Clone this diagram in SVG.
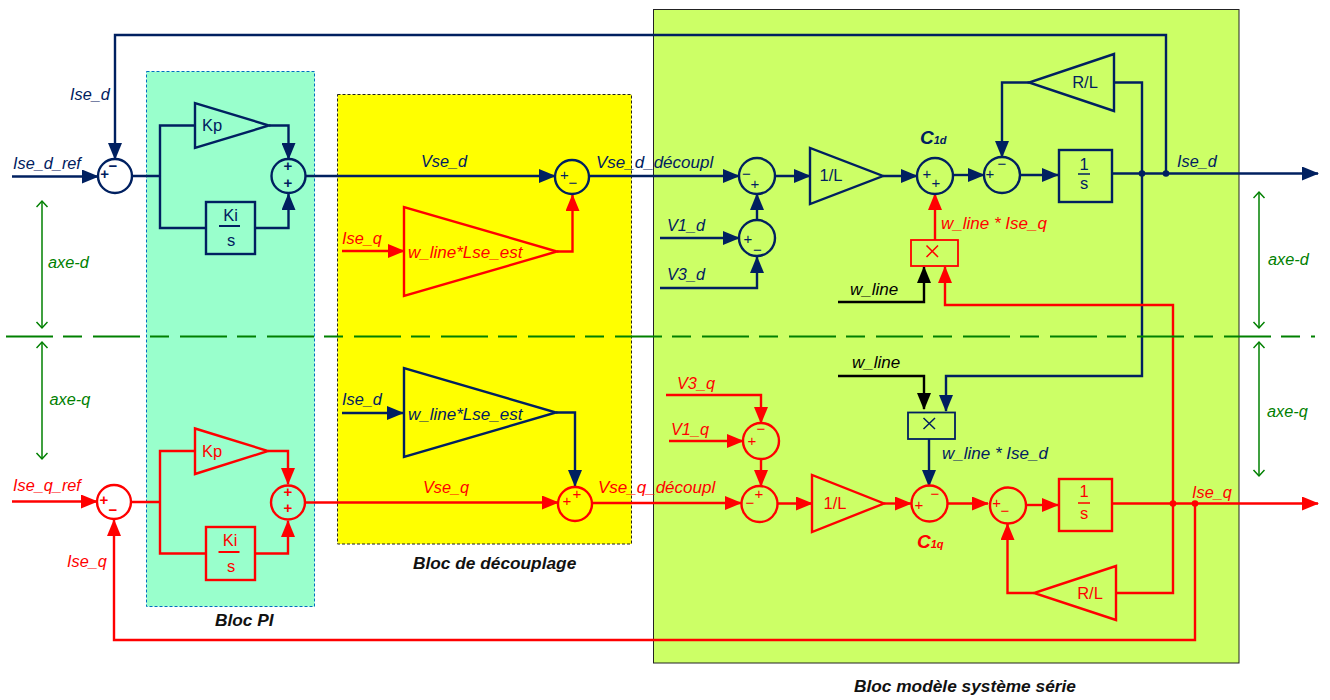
<svg xmlns="http://www.w3.org/2000/svg" width="1330" height="700" viewBox="0 0 1330 700">
<style>
text{font-family:"Liberation Sans",Arial,sans-serif}
.l{font-size:16.300px;font-style:italic}
.w{font-size:17px;font-style:italic}
.m{font-size:17px;font-style:italic}
.b{font-size:17.300px;font-style:italic;font-weight:bold;fill:#111}
.k{font-size:16.500px;text-anchor:middle}
.sg{font-size:15px;text-anchor:middle}
.bd{font-weight:bold}
.n{fill:#002060}.r{fill:#f00}.g{fill:#008000}.K{fill:#000}
.c{fill:none;stroke-width:2.4;stroke-linejoin:miter}
.nc{stroke:#002060}.rc{stroke:#f00}.kc{stroke:#000}
.na{marker-end:url(#an)}.ra{marker-end:url(#ar)}.ka{marker-end:url(#ak)}
.shape{fill:none;stroke-width:2.4}
.ga{fill:none;stroke:#008000;stroke-width:1.5;marker-start:url(#ag);marker-end:url(#ag)}
</style>
<defs>
<marker id="an" markerUnits="userSpaceOnUse" markerWidth="18" markerHeight="14" refX="16" refY="7" orient="auto"><path d="M0 0L17 7L0 14Z" fill="#002060"/></marker>
<marker id="ar" markerUnits="userSpaceOnUse" markerWidth="18" markerHeight="14" refX="16" refY="7" orient="auto"><path d="M0 0L17 7L0 14Z" fill="#f00"/></marker>
<marker id="ak" markerUnits="userSpaceOnUse" markerWidth="18" markerHeight="14" refX="16" refY="7" orient="auto"><path d="M0 0L17 7L0 14Z" fill="#000"/></marker>
<marker id="ag" markerUnits="userSpaceOnUse" markerWidth="10" markerHeight="14" refX="8" refY="6" orient="auto-start-reverse"><path d="M2 0.5L8 6L2 11.5" fill="none" stroke="#008000" stroke-width="1.5"/></marker>
</defs>
<g id="bloc-modele"><rect x="653.5" y="9.5" width="585.5" height="653.5" fill="#ccff66" stroke="#222" stroke-width="1"/></g>
<g id="bloc-pi"><rect x="146.5" y="71.5" width="168" height="535" fill="#99ffcc" stroke="#0070c0" stroke-width="1" stroke-dasharray="3 2"/></g>
<g id="bloc-decouplage"><rect x="337.5" y="94.5" width="294" height="449.5" fill="#ffff00" stroke="#222" stroke-width="1" stroke-dasharray="3 2"/></g>

<g id="connectors">
<g class="c nc">
<path class="na" d="M1166 173.5V35H115V159"/>
<path class="na" d="M12 176.5H98"/>
<path d="M132 176H160M195 125.5H160V228H206"/>
<path class="na" d="M269 125.5H288.5V159"/>
<path class="na" d="M255 228H288.5V194"/>
<path class="na" d="M305.500 176H555"/>
<path class="na" d="M589 176H739"/>
<path class="na" d="M775 176H810"/>
<path class="na" d="M883 176H917"/>
<path class="na" d="M953 175H984"/>
<path class="na" d="M1020 175H1058"/>
<path class="na" d="M1112 173.500H1318"/>
<path class="na" d="M757 220V194"/>
<path class="na" d="M660 238H739"/>
<path class="na" d="M660 288H757V257"/>
<path class="na" d="M1029 82.500H1002V157"/>
<path class="na" d="M1114 82.500H1142V376H946V411"/>
<path class="na" d="M342 413H403"/>
<path class="na" d="M556 412.500H575V486"/>
<path class="na" d="M929 439V486"/>
</g>
<g class="c rc">
<path class="ra" d="M557 251.500H572.500V195"/>
<path class="ra" d="M342 251H404"/>
<path class="ra" d="M935 240V194"/>
<path class="ra" d="M1173 503.500V305H945V267"/>
<path class="ra" d="M12 501.500H97"/>
<path class="ra" d="M1195 503.500V640H114V520"/>
<path d="M131 502H160M195 451H160V553.500H206"/>
<path class="ra" d="M268 451H288V484"/>
<path class="ra" d="M255 553.500H288V521"/>
<path class="ra" d="M305 502.500H558"/>
<path class="ra" d="M592 503H741"/>
<path class="ra" d="M666 395H761V423"/>
<path class="ra" d="M669 441H743"/>
<path class="ra" d="M761 459V486"/>
<path class="ra" d="M777 503.500H812"/>
<path class="ra" d="M884 503.500H911"/>
<path class="ra" d="M947 503.500H988"/>
<path class="ra" d="M1026 505H1058"/>
<path class="ra" d="M1112 503.500H1318"/>
<path class="ra" d="M1034 593H1007.500V524"/>
<path d="M1116 593H1173V503.500"/>
</g>
<g class="c kc">
<path class="ka" d="M838 302H924V267"/>
<path class="ka" d="M838 376H924V409"/>
</g>
<circle cx="1142" cy="173.500" r="3.300" fill="#002060"/>
<circle cx="1166" cy="173.500" r="3.300" fill="#002060"/>
<circle cx="1173" cy="503.500" r="3.300" fill="#f00"/>
<circle cx="1195" cy="503.500" r="3.300" fill="#f00"/>
</g>

<g id="axis">
<path d="M6 336.500H1315" fill="none" stroke="#008000" stroke-width="2" stroke-dasharray="47 10 19 11"/>
<path class="ga" d="M42 201V328"/>
<path class="ga" d="M42 342V459"/>
<path class="ga" d="M1259 192V328"/>
<path class="ga" d="M1259 342V476"/>
<text class="l g" x="48" y="268">axe-d</text>
<text class="l g" x="49.500" y="405">axe-q</text>
<text class="l g" x="1268" y="265">axe-d</text>
<text class="l g" x="1267" y="417">axe-q</text>
</g>

<g id="sum-d1" class="shape" stroke="#002060"><circle cx="115" cy="176" r="17"/><text class="sg n bd" stroke="none" x="104.700" y="179">+</text><text class="sg n bd" stroke="none" x="113" y="171">−</text></g>
<g id="sum-d2" class="shape" stroke="#002060"><circle cx="288.500" cy="176" r="17"/><text class="sg n bd" stroke="none" x="288" y="171">+</text><text class="sg n bd" stroke="none" x="288" y="188">+</text></g>
<g id="sum-d3" class="shape" stroke="#002060"><circle cx="572" cy="177" r="17"/><text class="sg n" stroke="none" x="564.500" y="179.500">+</text><text class="sg n" stroke="none" x="573" y="188">−</text></g>
<g id="sum-d4" class="shape" stroke="#002060"><circle cx="757" cy="176" r="18"/><text class="sg n" stroke="none" x="746.500" y="179">−</text><text class="sg n" stroke="none" x="755" y="188.500">+</text></g>
<g id="sum-d5" class="shape" stroke="#002060"><circle cx="757" cy="238" r="18"/><text class="sg n" stroke="none" x="748" y="243.500">+</text><text class="sg n" stroke="none" x="757.500" y="255">−</text></g>
<g id="sum-d6" class="shape" stroke="#002060"><circle cx="935" cy="176" r="18"/><text class="sg n" stroke="none" x="927" y="179">+</text><text class="sg n" stroke="none" x="936" y="188">+</text></g>
<g id="sum-d7" class="shape" stroke="#002060"><circle cx="1002" cy="175" r="18"/><text class="sg n" stroke="none" x="990" y="179">+</text><text class="sg n" stroke="none" x="1002" y="169">−</text></g>

<g id="sum-q1" class="shape" stroke="#f00"><circle cx="114" cy="502" r="17"/><text class="sg r bd" stroke="none" x="104" y="505">+</text><text class="sg r bd" stroke="none" x="113" y="515">−</text></g>
<g id="sum-q2" class="shape" stroke="#f00"><circle cx="288" cy="502.500" r="17"/><text class="sg r bd" stroke="none" x="288" y="496.500">+</text><text class="sg r bd" stroke="none" x="288" y="513">+</text></g>
<g id="sum-q3" class="shape" stroke="#f00"><circle cx="575" cy="504" r="17"/><text class="sg r" stroke="none" x="567" y="506">+</text><text class="sg r" stroke="none" x="577" y="499">+</text></g>
<g id="sum-q4" class="shape" stroke="#f00"><circle cx="761" cy="441" r="18"/><text class="sg r" stroke="none" x="752" y="446">+</text><text class="sg r" stroke="none" x="761" y="434">−</text></g>
<g id="sum-q5" class="shape" stroke="#f00"><circle cx="759.500" cy="504" r="18"/><text class="sg r" stroke="none" x="750" y="508">−</text><text class="sg r" stroke="none" x="759" y="499">+</text></g>
<g id="sum-q6" class="shape" stroke="#f00"><circle cx="929.500" cy="503.500" r="18"/><text class="sg r" stroke="none" x="919" y="510">+</text><text class="sg r" stroke="none" x="935" y="499">−</text></g>
<g id="sum-q7" class="shape" stroke="#f00"><circle cx="1008" cy="505.500" r="18"/><text class="sg r" stroke="none" x="996.700" y="507.700">+</text><text class="sg r" stroke="none" x="1005" y="516">−</text></g>

<g id="kp-d" class="shape" stroke="#002060"><path d="M195 103V148L269 125.500Z"/><text class="k n" stroke="none" x="212" y="131">Kp</text></g>
<g id="ki-d" class="shape" stroke="#002060"><rect x="206" y="202" width="49" height="52"/><path d="M219 226H240" stroke-width="2"/><text class="k n" stroke="none" x="230.500" y="221">Ki</text><text class="k n" stroke="none" x="231" y="246">s</text></g>
<g id="kp-q" class="shape" stroke="#f00"><path d="M195 428.500V474L268 451Z"/><text class="k r" stroke="none" x="212" y="457">Kp</text></g>
<g id="ki-q" class="shape" stroke="#f00"><rect x="206" y="527" width="49" height="53"/><path d="M218.500 552H239.500" stroke-width="2"/><text class="k r" stroke="none" x="230" y="546">Ki</text><text class="k r" stroke="none" x="231" y="572">s</text></g>
<g id="gain-lse-q" class="shape" stroke="#f00"><path d="M404 207V296L557 251.500Z"/><text class="w r" stroke="none" x="408" y="258">w_line*Lse_est</text></g>
<g id="gain-lse-d" class="shape" stroke="#002060"><path d="M404 368V457L556 412.500Z"/><text class="w n" stroke="none" x="408" y="420">w_line*Lse_est</text></g>
<g id="one-l-d" class="shape" stroke="#002060"><path d="M810 148V204L883 176Z"/><text class="k n" stroke="none" x="831" y="181">1/L</text></g>
<g id="one-l-q" class="shape" stroke="#f00"><path d="M812 475V532L884 503.500Z"/><text class="k r" stroke="none" x="835" y="509">1/L</text></g>
<g id="integ-d" class="shape" stroke="#002060"><rect x="1059" y="150" width="53" height="52"/><path d="M1078 174H1090" stroke-width="1.500"/><text class="k n" stroke="none" x="1084" y="170">1</text><text class="k n" stroke="none" x="1084" y="189">s</text></g>
<g id="integ-q" class="shape" stroke="#f00"><rect x="1059" y="479" width="53" height="52"/><path d="M1078 503H1090" stroke-width="1.500"/><text class="k r" stroke="none" x="1084" y="497">1</text><text class="k r" stroke="none" x="1084" y="519">s</text></g>
<g id="rl-d" class="shape" stroke="#002060"><path d="M1114 54V111L1029 82.500Z"/><text class="k n" stroke="none" x="1085" y="88">R/L</text></g>
<g id="rl-q" class="shape" stroke="#f00"><path d="M1116 566V620L1034 593Z"/><text class="k r" stroke="none" x="1090" y="599">R/L</text></g>
<g id="mul-d" stroke="#f00"><rect x="911" y="240" width="47" height="26" fill="none" stroke-width="1.800"/><path d="M926.500 245.500L938 257M938 245.500L926.500 257" stroke-width="1.500"/></g>
<g id="mul-q" stroke="#002060"><rect x="908" y="412.500" width="47" height="26.500" fill="none" stroke-width="1.800"/><path d="M923.500 418L935 429M935 418L923.500 429" stroke-width="1.500"/></g>

<g id="labels">
<text class="l n" x="70" y="100">Ise_d</text>
<text class="l n" x="13" y="169">Ise_d_ref</text>
<text class="l n" x="421" y="167">Vse_d</text>
<text class="m n" x="596" y="168">Vse_d_découpl</text>
<text class="l n" x="667" y="231">V1_d</text>
<text class="l n" x="667" y="280">V3_d</text>
<text class="l n" x="1177" y="167">Ise_d</text>
<text class="l n" x="342" y="405">Ise_d</text>
<text class="w n" x="942" y="459">w_line * Ise_d</text>
<text class="l r" x="342" y="244">Ise_q</text>
<text class="w r" x="941" y="229">w_line * Ise_q</text>
<text class="l r" x="13" y="491">Ise_q_ref</text>
<text class="l r" x="67" y="567">Ise_q</text>
<text class="l r" x="423" y="493">Vse_q</text>
<text class="m r" x="598" y="493">Vse_q_découpl</text>
<text class="l r" x="677" y="389">V3_q</text>
<text class="l r" x="671" y="435">V1_q</text>
<text class="l r" x="1192" y="498">Ise_q</text>
<text class="w K" x="850" y="295">w_line</text>
<text class="w K" x="852" y="368">w_line</text>
<text class="n" x="920" y="144" font-style="italic" font-weight="bold" font-size="19">C<tspan font-size="11">1d</tspan></text>
<text class="r" x="917" y="548" font-style="italic" font-weight="bold" font-size="19">C<tspan font-size="11">1q</tspan></text>
<text class="b" x="215" y="626">Bloc PI</text>
<text class="b" x="413" y="569">Bloc de découplage</text>
<text class="b" x="854" y="692">Bloc modèle système série</text>
</g>
</svg>
